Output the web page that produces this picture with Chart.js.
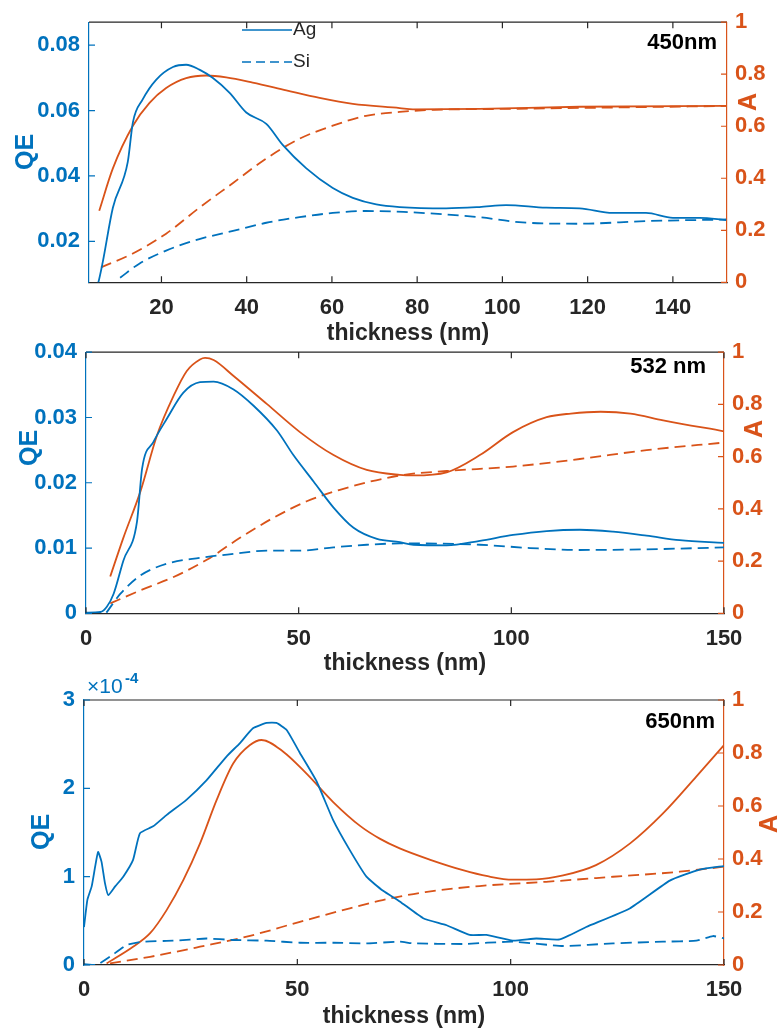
<!DOCTYPE html>
<html>
<head>
<meta charset="utf-8">
<title>QE and A vs thickness</title>
<script src="https://cdn.jsdelivr.net/npm/chart.js@4.4.0/dist/chart.umd.min.js"></script>
<style>
  body { margin: 0; background: #fff; overflow: hidden; }
  canvas.panel { position: absolute; left: 0; }
</style>
</head>
<body>
<canvas id="c450" class="panel" width="778" height="350" style="top:0px"></canvas>
<canvas id="c532" class="panel" width="778" height="350" style="top:330px"></canvas>
<canvas id="c650" class="panel" width="778" height="360" style="top:670px"></canvas>
<script>
// ---- 450 nm ----
const agX450  = [4.8, 5.2, 6.2, 8.6, 12.1, 13.3, 15.6, 18.75, 22.7, 25.8, 28.9, 32, 36, 39.9, 44.6, 48.5, 54, 60.2, 64.9, 70.4, 75.9, 86.8, 94.6, 100.9, 110.3, 118.1, 125.9, 133.7, 140, 146.3, 152.5];
const agQE450 = [0.006, 0.0075, 0.0135, 0.0303, 0.0443, 0.0564, 0.0634, 0.0694, 0.0733, 0.0740, 0.0725, 0.0700, 0.0654, 0.0594, 0.0559, 0.0494, 0.0423, 0.0363, 0.0333, 0.0313, 0.0305, 0.0301, 0.0305, 0.0311, 0.0303, 0.0301, 0.0287, 0.0287, 0.0272, 0.0272, 0.0265];
const siX450  = [10.3, 14.8, 21.1, 28.9, 36.8, 44.6, 52.4, 60.2, 68, 76.8, 86, 94.6, 104.7, 118.1, 133.7, 152.5];
const siQE450 = [0.0089, 0.0132, 0.0172, 0.0207, 0.0232, 0.0257, 0.0274, 0.0287, 0.0293, 0.0290, 0.0283, 0.0274, 0.0258, 0.0254, 0.0262, 0.0267];
const agAX450 = [5.4, 8.6, 13.3, 17.2, 21.1, 25.8, 30.5, 35.2, 41.4, 49.3, 57.1, 64.9, 75.9, 79, 94.6, 118.1, 152.5];
const agA450  = [0.275, 0.438, 0.602, 0.690, 0.747, 0.785, 0.795, 0.788, 0.768, 0.738, 0.709, 0.686, 0.670, 0.665, 0.667, 0.675, 0.678];
const siAX450 = [5.8, 13.3, 21.1, 28.9, 36.8, 44.6, 52.4, 60.2, 68, 75.9, 84, 102.5, 125.9, 152.5];
const siA450  = [0.057, 0.111, 0.187, 0.287, 0.382, 0.476, 0.552, 0.602, 0.640, 0.655, 0.663, 0.667, 0.672, 0.678];

// ---- 532 nm ----
const agX532  = [0, 3.4, 4.9, 6.5, 8.8, 12, 13.2, 15.9, 19, 22.9, 26.8, 30, 34.7, 39.4, 44.9, 48.8, 53.5, 58.2, 62.9, 68.4, 73.8, 77, 84.8, 92.6, 100.4, 108.3, 116.1, 123.9, 131.8, 139.6, 150];
const agQE532 = [0.0001, 0.0002, 0.001, 0.003, 0.0081, 0.0141, 0.0222, 0.0263, 0.0298, 0.0338, 0.0354, 0.0355, 0.0343, 0.0318, 0.028, 0.0242, 0.0202, 0.0162, 0.0131, 0.0114, 0.0109, 0.0105, 0.0104, 0.0111, 0.012, 0.0126, 0.0128, 0.0125, 0.0119, 0.0112, 0.0108];
const siX532  = [4.8, 8.1, 12.8, 19, 26.8, 34.7, 42.5, 50.3, 58.2, 66, 73.8, 77, 92.6, 104.4, 116.1, 131.8, 150];
const siQE532 = [0.0001, 0.003, 0.0058, 0.0076, 0.0085, 0.0091, 0.0096, 0.0096, 0.0101, 0.0105, 0.0107, 0.0107, 0.0105, 0.0100, 0.0097, 0.0098, 0.0101];
const agAX532 = [5.7, 8.8, 12.8, 16.7, 20.6, 23.7, 26.8, 28, 30, 34.7, 42.5, 50.3, 58.2, 66, 73.8, 77, 84.8, 92.6, 100.4, 108.3, 114, 121, 128, 135.7, 150];
const agA532  = [0.141, 0.29, 0.467, 0.682, 0.833, 0.928, 0.972, 0.978, 0.970, 0.909, 0.802, 0.694, 0.606, 0.549, 0.530, 0.528, 0.540, 0.606, 0.694, 0.751, 0.765, 0.772, 0.765, 0.739, 0.697];
const siAX532 = [5.7, 12.8, 20.6, 28.4, 36.3, 44.1, 51.9, 59.7, 73.8, 84.8, 100.4, 116.1, 131.8, 150];
const siA532  = [0.038, 0.088, 0.139, 0.205, 0.29, 0.366, 0.429, 0.473, 0.528, 0.545, 0.562, 0.591, 0.625, 0.654];

// ---- 650 nm (QE in units of 1e-4) ----
const agX650  = [0, 0.8, 1.8, 2.6, 3.3, 4.1, 4.9, 5.7, 7.3, 9.2, 11.5, 13.1, 16.2, 19.4, 24, 28.7, 33.4, 36.5, 39.6, 42.8, 45.1, 47.5, 50.6, 54.5, 58.4, 62.3, 66.2, 70.1, 74, 79.5, 85, 90.4, 94.3, 100.5, 106, 111.5, 117.7, 127.9, 137.3, 144.3, 150];
const agQE650 = [0.43, 0.74, 0.89, 1.11, 1.28, 1.17, 0.93, 0.79, 0.89, 1.0, 1.19, 1.49, 1.57, 1.70, 1.87, 2.09, 2.36, 2.51, 2.68, 2.74, 2.74, 2.66, 2.40, 2.08, 1.64, 1.30, 1.00, 0.84, 0.72, 0.53, 0.45, 0.34, 0.34, 0.275, 0.30, 0.29, 0.43, 0.64, 0.955, 1.08, 1.12];
const siX650  = [0, 3, 6.1, 10, 13.9, 20.9, 28.7, 35, 42.8, 50.6, 58.4, 66.2, 74, 77.1, 88.8, 100.5, 112.3, 124, 135.7, 143.5, 147.4, 150];
const siQE650 = [0.01, 0, 0.094, 0.226, 0.264, 0.275, 0.30, 0.283, 0.275, 0.252, 0.252, 0.245, 0.264, 0.245, 0.238, 0.264, 0.215, 0.245, 0.264, 0.275, 0.328, 0.30];
const agAX650 = [5.3, 11.5, 15.5, 19.4, 23.3, 27.2, 31.1, 35, 38.9, 41.6, 46.7, 52.1, 58.4, 64.7, 69.3, 74, 81, 88.8, 94.6, 100.5, 106, 112.3, 120, 128, 135.7, 143.5, 150];
const agA650  = [0.006, 0.069, 0.12, 0.208, 0.321, 0.459, 0.623, 0.761, 0.830, 0.849, 0.805, 0.723, 0.615, 0.525, 0.477, 0.44, 0.398, 0.358, 0.335, 0.322, 0.323, 0.338, 0.377, 0.459, 0.572, 0.711, 0.830];
const siAX650 = [6.1, 15.5, 27.2, 38.9, 50.6, 62.3, 70, 80, 92.7, 108.3, 124, 139.6, 150];
const siA650  = [0.006, 0.031, 0.069, 0.11, 0.163, 0.214, 0.245, 0.275, 0.298, 0.314, 0.333, 0.352, 0.371];

// ticks
const xTicks450  = [20, 40, 60, 80, 100, 120, 140];
const xTicks     = [0, 50, 100, 150];
const qeTicks450 = [0.02, 0.04, 0.06, 0.08];
const qeTicks532 = [0, 0.01, 0.02, 0.03, 0.04];
const qeTicks650 = [0, 1, 2, 3];
const aTicks     = [0, 0.2, 0.4, 0.6, 0.8, 1];

const BLUE = '#0072BD';
const ORANGE = '#D95319';
const DARK = '#262626';
const FONT = "'Liberation Sans', Arial, Helvetica, sans-serif";
const TICK = 6;

function pts(xs, ys) {
    return xs.map((x, i) => ({ x: x, y: ys[i] }));
}

function series(label, xs, ys, color, dashed, axis, smooth) {
    return {
        label: label,
        data: pts(xs, ys),
        yAxisID: axis,
        borderColor: color,
        backgroundColor: color,
        borderWidth: 1.8,
        borderDash: dashed ? [11, 6] : [],
        pointRadius: 0,
        fill: false,
        cubicInterpolationMode: smooth ? 'monotone' : 'default',
        tension: smooth ? 0 : 0.15
    };
}

// extra drawing: box top, inward ticks, axis titles, panel label, legend
function decoPlugin(d) {
    return {
        id: 'deco',
        afterDraw(chart) {
            const ctx = chart.ctx;
            const a = chart.chartArea;
            const sx = chart.scales.x, sy = chart.scales.y, sa = chart.scales.y1;
            ctx.save();
            ctx.lineWidth = 1.2;
            ctx.setLineDash([]);

            ctx.strokeStyle = DARK;
            ctx.beginPath();
            ctx.moveTo(a.left, a.top);
            ctx.lineTo(a.right, a.top);
            sx.ticks.forEach(t => {
                const px = sx.getPixelForValue(t.value);
                ctx.moveTo(px, a.bottom); ctx.lineTo(px, a.bottom - TICK);
                ctx.moveTo(px, a.top); ctx.lineTo(px, a.top + TICK);
            });
            ctx.stroke();

            ctx.strokeStyle = BLUE;
            ctx.beginPath();
            sy.ticks.forEach(t => {
                const py = sy.getPixelForValue(t.value);
                ctx.moveTo(a.left, py); ctx.lineTo(a.left + TICK, py);
            });
            ctx.stroke();

            ctx.strokeStyle = ORANGE;
            ctx.beginPath();
            sa.ticks.forEach(t => {
                const py = sa.getPixelForValue(t.value);
                ctx.moveTo(a.right, py); ctx.lineTo(a.right - TICK, py);
            });
            ctx.stroke();

            const off = d.top;
            ctx.textBaseline = 'middle';

            // panel label
            ctx.font = 'bold 22px ' + FONT;
            ctx.fillStyle = '#000';
            ctx.textAlign = 'right';
            ctx.fillText(d.label, d.labelX, d.labelY - off);

            // y titles, both read bottom to top
            ctx.font = 'bold 25px ' + FONT;
            ctx.textAlign = 'center';
            [['QE', BLUE, d.qeX, d.qeY], ['A', ORANGE, d.aX, d.aY]].forEach(t => {
                ctx.save();
                ctx.translate(t[2], t[3] - off);
                ctx.rotate(-Math.PI / 2);
                ctx.fillStyle = t[1];
                ctx.fillText(t[0], 0, 0);
                ctx.restore();
            });

            if (d.exponent) {
                ctx.fillStyle = BLUE;
                ctx.textAlign = 'left';
                ctx.font = '21px ' + FONT;
                ctx.fillText('\u00d710', 87, 687 - off);
                ctx.font = 'bold 15px ' + FONT;
                ctx.fillText('-4', 125, 679 - off);
            }

            if (d.legend) {
                const ds = chart.data.datasets;
                [[ds[0], 30], [ds[1], 62]].forEach(e => {
                    ctx.strokeStyle = e[0].borderColor;
                    ctx.lineWidth = 1.5;
                    ctx.setLineDash(e[0].borderDash.length ? [9, 5] : []);
                    ctx.beginPath();
                    ctx.moveTo(242, e[1] - off);
                    ctx.lineTo(292, e[1] - off);
                    ctx.stroke();
                    ctx.setLineDash([]);
                    ctx.fillStyle = DARK;
                    ctx.font = '19px ' + FONT;
                    ctx.textAlign = 'left';
                    ctx.fillText(e[0].label, 293, e[1] - off);
                });
            }
            ctx.restore();
        }
    };
}

const tickFont = { family: FONT, size: 22, weight: 'bold' };
const titleFont = { family: FONT, size: 23, weight: 'bold', lineHeight: 1.1 };

function panel(id, p) {
    return new Chart(document.getElementById(id), {
        type: 'line',
        data: { datasets: p.datasets },
        options: {
            responsive: false,
            animation: false,
            events: [],
            layout: { padding: { top: p.top, left: 0, right: 0, bottom: 0 } },
            plugins: { legend: { display: false }, tooltip: { enabled: false } },
            scales: {
                x: {
                    type: 'linear',
                    min: p.xMin,
                    max: p.xMax,
                    afterBuildTicks: s => { s.ticks = p.xTicks.map(v => ({ value: v })); },
                    afterFit: s => { s.height = p.xHeight; },
                    grid: { drawOnChartArea: false, drawTicks: false },
                    border: { color: DARK, width: 1.2 },
                    ticks: { color: DARK, font: tickFont, padding: 12, autoSkip: false, maxRotation: 0, callback: v => String(v) },
                    title: { display: true, text: 'thickness (nm)', color: DARK, font: titleFont, padding: { top: 0, bottom: p.titlePad } }
                },
                y: {
                    type: 'linear',
                    position: 'left',
                    min: p.qeMin,
                    max: p.qeMax,
                    afterBuildTicks: s => { s.ticks = p.qeTicks.map(v => ({ value: v })); },
                    afterFit: s => { s.width = p.left; },
                    grid: { drawOnChartArea: false, drawTicks: false },
                    border: { color: BLUE, width: 1.2 },
                    ticks: { color: BLUE, font: tickFont, padding: 9, autoSkip: false, callback: v => String(v) }
                },
                y1: {
                    type: 'linear',
                    position: 'right',
                    min: 0,
                    max: 1,
                    afterBuildTicks: s => { s.ticks = aTicks.map(v => ({ value: v })); },
                    afterFit: s => { s.width = p.right; },
                    grid: { drawOnChartArea: false, drawTicks: false },
                    border: { color: ORANGE, width: 1.2 },
                    ticks: { color: ORANGE, font: tickFont, padding: 8, autoSkip: false, callback: v => String(v) }
                }
            }
        },
        plugins: [decoPlugin(p.deco)]
    });
}

panel('c450', {
    datasets: [
        series('Ag', agX450, agQE450, BLUE, false, 'y', true),
        series('Si', siX450, siQE450, BLUE, true, 'y', true),
        series('Ag A', agAX450, agA450, ORANGE, false, 'y1', true),
        series('Si A', siAX450, siA450, ORANGE, true, 'y1', true)
    ],
    xMin: 3, xMax: 152.7, xTicks: xTicks450,
    qeMin: 0.0075, qeMax: 0.087, qeTicks: qeTicks450,
    top: 18, left: 89, right: 51, xHeight: 67.7, titlePad: 3.8,
    deco: { top: 0, label: '450nm', labelX: 717, labelY: 43, qeX: 26, qeY: 152, aX: 749, aY: 102, legend: true }
});

panel('c532', {
    datasets: [
        series('Ag', agX532, agQE532, BLUE, false, 'y', true),
        series('Si', siX532, siQE532, BLUE, true, 'y', true),
        series('Ag A', agAX532, agA532, ORANGE, false, 'y1', true),
        series('Si A', siAX532, siA532, ORANGE, true, 'y1', true)
    ],
    xMin: 0, xMax: 150, xTicks: xTicks,
    qeMin: 0, qeMax: 0.04, qeTicks: qeTicks532,
    top: 19.3, left: 86, right: 54, xHeight: 66.7, titlePad: 3.8,
    deco: { top: 330, label: '532 nm', labelX: 706, labelY: 367, qeX: 30, qeY: 448, aX: 755, aY: 429 }
});

panel('c650', {
    datasets: [
        series('Ag', agX650, agQE650, BLUE, false, 'y', false),
        series('Si', siX650, siQE650, BLUE, true, 'y', false),
        series('Ag A', agAX650, agA650, ORANGE, false, 'y1', true),
        series('Si A', siAX650, siA650, ORANGE, true, 'y1', true)
    ],
    xMin: 0, xMax: 150, xTicks: xTicks,
    qeMin: 0, qeMax: 3, qeTicks: qeTicks650,
    top: 30, left: 84, right: 54, xHeight: 65, titlePad: 0.2,
    deco: { top: 670, label: '650nm', labelX: 715, labelY: 722, qeX: 42, qeY: 832, aX: 770, aY: 824, exponent: true }
});
</script>
</body>
</html>
